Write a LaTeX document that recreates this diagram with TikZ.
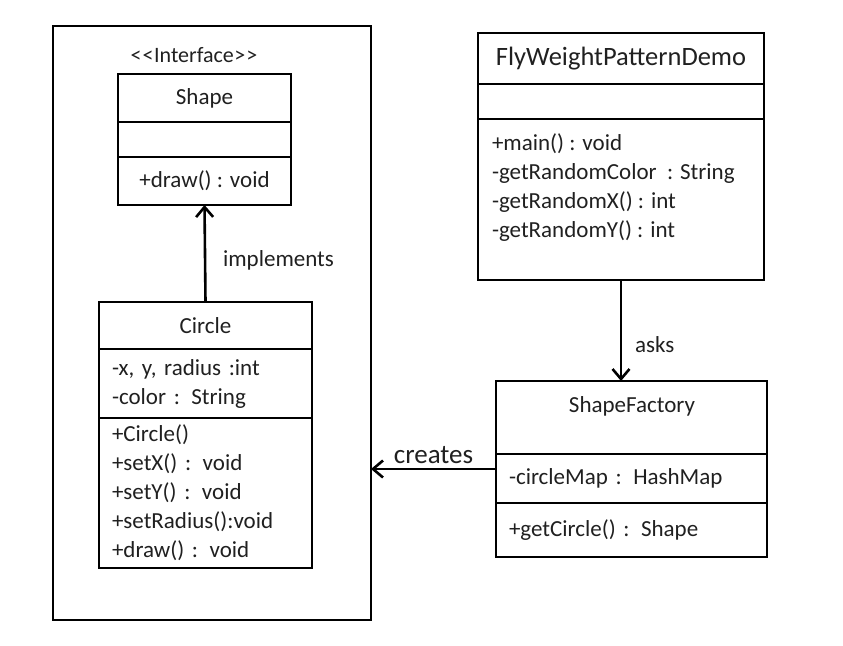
\documentclass[tikz,border=0pt]{standalone}
\usepackage{fontspec}
\setmainfont{Carlito}
\usetikzlibrary{arrows.meta,positioning}
\definecolor{umlink}{HTML}{202020}

\begin{document}
\begin{tikzpicture}[x=1pt,y=-1pt]
\tikzset{every node/.style={inner sep=0pt,outer sep=0pt,text=umlink,font=\fontsize{23}{29}\selectfont},
  compart/.style={draw=black,line width=2.6pt,anchor=north west,minimum width=#1},
  members/.style={align=left,inner xsep=13pt,text width=#1},
  umlarrow/.style={line width=2.6pt,-{Straight Barb[length=10pt,width=17pt]}}}
\useasboundingbox (0,0) rectangle (843,645);
\node[compart=318pt,minimum height=594pt,line width=2.8pt] (frame) at (53,26) {};
\node[font=\fontsize{22}{26}\selectfont] (ifaceTag) at (194,55) {<\kern1pt<\kern0.5pt Interface\kern0.5pt>\kern1pt>};
% Shape
\node[compart=173pt,minimum height=48pt] (shapeName) at (118,74) {Shape};
\node[compart=173pt,minimum height=35pt] (shapeAttr) at (118,122) {};
\node[compart=173pt,minimum height=48pt] (shapeOps) at (118,157) {+draw() : void};
% Circle
\node[compart=213pt,minimum height=47pt] (circName) at (99,302) {Circle};
\node[compart=213pt,minimum height=69pt,members=187pt] (circAttr) at (99,349) {-x, y, radius :int\\-color : String};
\node[compart=213pt,minimum height=150pt,members=187pt] (circOps) at (99,418) {+Circle()\\+setX() : void\\+setY() : void\\+setRadius():void\\+draw() : void};
% FlyWeightPatternDemo
\node[compart=286pt,minimum height=51pt,font=\fontsize{26.5}{30}\selectfont] (fwName) at (478,33) {FlyWeightPatternDemo};
\node[compart=286pt,minimum height=35pt] (fwAttr) at (478,84) {};
\node[compart=286pt,minimum height=161pt] (fwOps) at (478,119) {};
\node[anchor=west,align=left] (fwOpsText) at (492,188) {+main() : void\\-getRandomColor\ \ : String\\-getRandomX() : int\\-getRandomY() : int};
% ShapeFactory
\node[compart=271pt,minimum height=73pt] (sfName) at (496,381) {};
\node (sfTitle) at (632,406) {ShapeFactory};
\node[compart=271pt,minimum height=49pt,members=245pt] (sfAttr) at (496,454) {-circleMap : HashMap};
\node[compart=271pt,minimum height=54pt,members=245pt] (sfOps) at (496,503) {+getCircle() : Shape};
% relations
\draw[umlarrow] (circName.north) -- (shapeOps.south) node[pos=0.43,right=18pt] (implLabel) {implements};
\draw[umlarrow] (fwOps.south) -- (fwOps.south |- sfName.north) node[pos=0.64,right=14pt] (asksLabel) {asks};
\coordinate (sfOut) at ([yshift=9.5pt]sfAttr.west);
\draw[umlarrow] (sfOut) -- (sfOut -| frame.east) node[midway,above=5pt,font=\fontsize{27}{30}\selectfont] (createsLabel) {creates};
\end{tikzpicture}
\end{document}
